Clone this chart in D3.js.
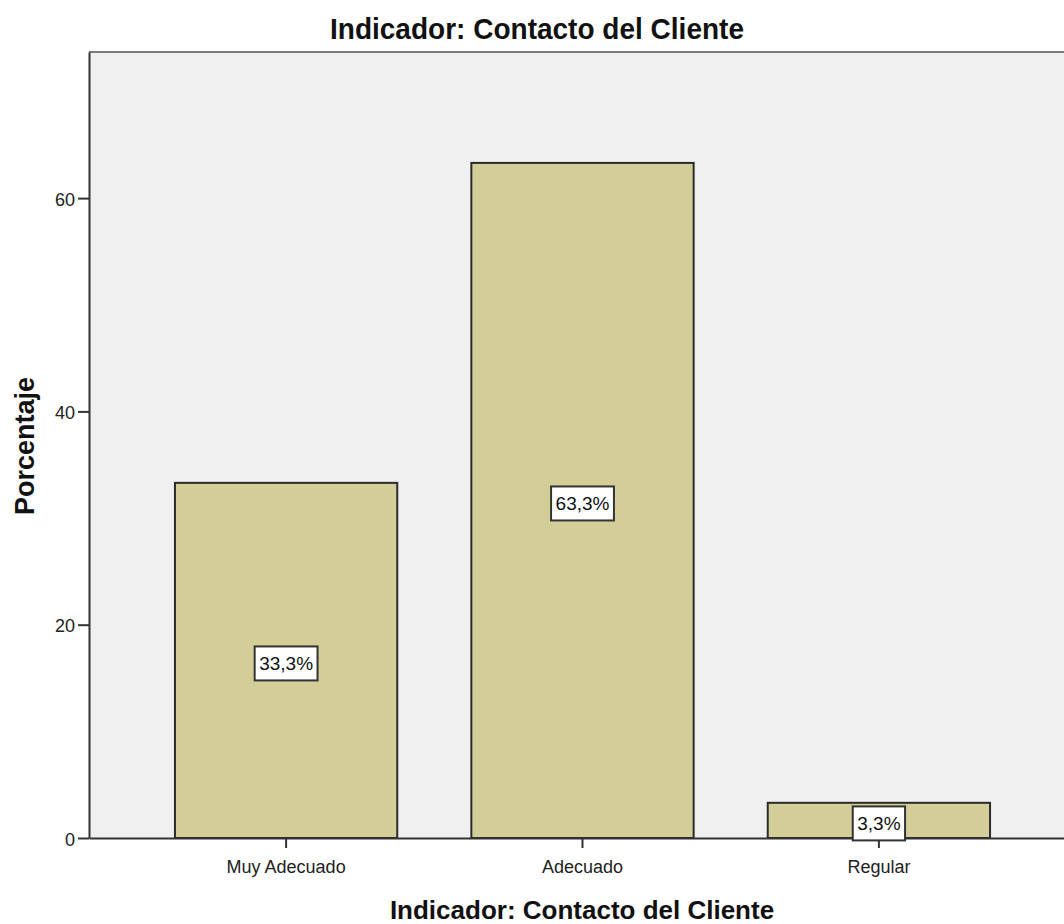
<!DOCTYPE html>
<html>
<head>
<meta charset="utf-8">
<script src="https://cdn.jsdelivr.net/npm/d3@7/dist/d3.min.js"></script>
<style>
  html, body { margin: 0; padding: 0; background: #ffffff; }
  svg { display: block; }
</style>
</head>
<body>
<div id="chart"></div>
<script>
// Data
const categories = ["Muy Adecuado", "Adecuado", "Regular"];
const percentages = [33.3, 63.3, 3.3];
const valueLabels = ["33,3%", "63,3%", "3,3%"];
const yTicks = [0, 20, 40, 60];

const W = 1064, H = 924;
const plot = { left: 89, top: 52, right: 1076, bottom: 838 };
const FONT = "'Liberation Sans', Arial, sans-serif";

const svg = d3.select("#chart").append("svg")
  .attr("width", W).attr("height", H);

const x = d3.scaleBand()
  .domain(categories)
  .range([plot.left, plot.right])
  .paddingInner(0.25)
  .paddingOuter(0.29);

const y = d3.scaleLinear()
  .domain([0, 73.7])
  .range([plot.bottom, plot.top]);

// plot background
svg.append("rect")
  .attr("x", plot.left).attr("y", plot.top)
  .attr("width", plot.right - plot.left).attr("height", plot.bottom - plot.top)
  .attr("fill", "#f0f0f0");

// top frame line
svg.append("line")
  .attr("x1", plot.left).attr("x2", plot.right)
  .attr("y1", plot.top).attr("y2", plot.top)
  .attr("stroke", "#7a7a7a").attr("stroke-width", 2);

// bars
svg.append("g").selectAll("rect")
  .data(categories)
  .join("rect")
  .attr("x", d => x(d))
  .attr("y", (d, i) => y(percentages[i]))
  .attr("width", x.bandwidth())
  .attr("height", (d, i) => y(0) - y(percentages[i]))
  .attr("fill", "#d3ce98")
  .attr("stroke", "#2b2b2b")
  .attr("stroke-width", 2);

// y axis
const yAxis = svg.append("g")
  .attr("transform", `translate(${plot.left},0)`)
  .call(d3.axisLeft(y).tickValues(yTicks).tickSize(11).tickPadding(3).tickSizeOuter(0));
yAxis.select(".domain").attr("stroke", "#333").attr("stroke-width", 2);
yAxis.selectAll(".tick line").attr("stroke", "#333").attr("stroke-width", 2);
yAxis.selectAll(".tick text")
  .attr("font-family", FONT)
  .attr("font-size", 18).attr("fill", "#222").attr("dy", "0.4em");

// x axis
const xAxis = svg.append("g")
  .attr("transform", `translate(0,${plot.bottom})`)
  .call(d3.axisBottom(x).tickSize(10).tickPadding(12).tickSizeOuter(0));
xAxis.select(".domain").attr("stroke", "#333").attr("stroke-width", 2);
xAxis.selectAll(".tick line").attr("stroke", "#333").attr("stroke-width", 2);
xAxis.selectAll(".tick text")
  .attr("font-family", FONT)
  .attr("font-size", 18).attr("fill", "#222");

// value labels in boxes
const lab = svg.append("g").selectAll("g")
  .data(categories)
  .join("g")
  .attr("transform", (d, i) => `translate(${x(d) + x.bandwidth() / 2},${y(percentages[i] / 2) + 3})`);
const labRect = lab.append("rect")
  .attr("fill", "#ffffff")
  .attr("stroke", "#333").attr("stroke-width", 2);
const labText = lab.append("text")
  .attr("text-anchor", "middle").attr("dy", "0.36em")
  .attr("font-family", FONT)
  .attr("font-size", 19).attr("fill", "#111")
  .text((d, i) => valueLabels[i]);
labText.each(function (d, i) {
  const w = this.getComputedTextLength() + 9;
  d3.select(labRect.nodes()[i])
    .attr("x", -w / 2).attr("y", -17)
    .attr("width", w).attr("height", 34);
});

// title
svg.append("text")
  .attr("x", 537).attr("y", 39)
  .attr("text-anchor", "middle")
  .attr("font-family", FONT)
  .attr("font-weight", "bold")
  .attr("font-size", 30).attr("fill", "#111")
  .attr("textLength", 414).attr("lengthAdjust", "spacingAndGlyphs")
  .text("Indicador: Contacto del Cliente");

// x axis title
svg.append("text")
  .attr("x", 582).attr("y", 919)
  .attr("text-anchor", "middle")
  .attr("font-family", FONT)
  .attr("font-weight", "bold")
  .attr("font-size", 26).attr("fill", "#111")
  .text("Indicador: Contacto del Cliente");

// y axis title
svg.append("text")
  .attr("transform", "translate(34,446) rotate(-90)")
  .attr("text-anchor", "middle")
  .attr("font-family", FONT)
  .attr("font-weight", "bold")
  .attr("font-size", 27).attr("fill", "#111")
  .text("Porcentaje");
</script>
</body>
</html>
